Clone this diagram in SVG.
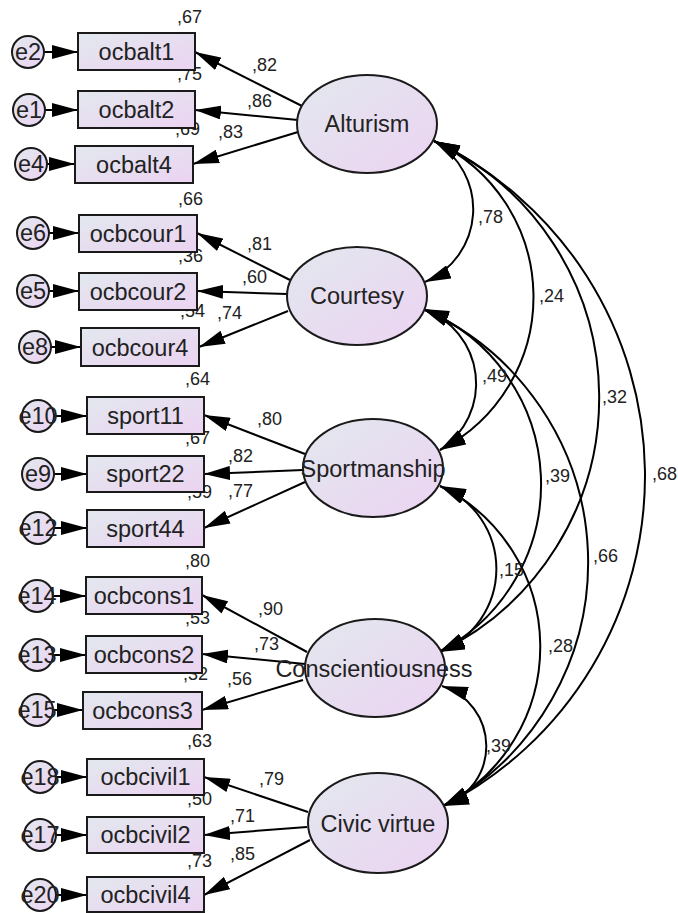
<svg xmlns="http://www.w3.org/2000/svg" width="678" height="913" viewBox="0 0 678 913">
<defs>
<linearGradient id="g" x1="0" y1="0" x2="1" y2="1">
<stop offset="0" stop-color="#e2e8ee"/>
<stop offset="1" stop-color="#ecd3f2"/>
</linearGradient>
<marker id="ah" viewBox="0 0 26 14" refX="26" refY="7" markerWidth="26" markerHeight="14" markerUnits="userSpaceOnUse" orient="auto-start-reverse">
<path d="M0,0 L26,7 L0,14 z" fill="#000"/>
</marker>
<style>
.box{fill:url(#g);stroke:#1a1a1a;stroke-width:2}
.lat{fill:url(#g);stroke:#1a1a1a;stroke-width:2}
.err{fill:url(#g);stroke:#1a1a1a;stroke-width:2}
.t{font-family:"Liberation Sans",Arial,sans-serif;font-size:23.5px;fill:#222;text-anchor:middle}
.n{font-family:"Liberation Sans",Arial,sans-serif;font-size:18px;fill:#222}
.c{fill:none;stroke:#000;stroke-width:2;marker-end:url(#ah)}
.cv{fill:none;stroke:#000;stroke-width:2;marker-start:url(#ah);marker-end:url(#ah)}
</style>
</defs>
<rect width="678" height="913" fill="#fff"/>

<g id="connectors">
<path class="c" d="M44,52 L78,52"/>
<path class="c" d="M45,110 L78,110"/>
<path class="c" d="M47,164 L75,164"/>
<path class="c" d="M49,233 L79,233"/>
<path class="c" d="M49,291 L79,291"/>
<path class="c" d="M51,347 L81,347"/>
<path class="c" d="M54,416 L87,416"/>
<path class="c" d="M54,474 L87,474"/>
<path class="c" d="M54,528 L87,528"/>
<path class="c" d="M53,596 L86,596"/>
<path class="c" d="M53,655 L86,655"/>
<path class="c" d="M53,710 L83,710"/>
<path class="c" d="M56,777 L87,777"/>
<path class="c" d="M56,835 L87,835"/>
<path class="c" d="M56,895 L87,895"/>
<path class="c" d="M302,106 L195,52"/>
<path class="c" d="M298,120 L195,110"/>
<path class="c" d="M298,132 L193,164"/>
<path class="c" d="M290,280 L197,233"/>
<path class="c" d="M287,294 L197,291"/>
<path class="c" d="M288,311 L199,347"/>
<path class="c" d="M305,454 L204,415"/>
<path class="c" d="M303,470 L204,474"/>
<path class="c" d="M305,482 L204,528"/>
<path class="c" d="M307,652 L202,595"/>
<path class="c" d="M305,664 L202,654"/>
<path class="c" d="M303,680 L202,710"/>
<path class="c" d="M308,812 L204,777"/>
<path class="c" d="M307,827 L204,835"/>
<path class="c" d="M310,840 L204,895"/>
<path class="cv" d="M434,141 A79,79 0 0 1 425,282"/>
<path class="cv" d="M434,141 A172,172 0 0 1 440,450"/>
<path class="cv" d="M434,141 A282,282 0 0 1 439,652"/>
<path class="cv" d="M434,141 A371,371 0 0 1 443,806"/>
<path class="cv" d="M423,309 A79,79 0 0 1 440,450"/>
<path class="cv" d="M423,309 A189,189 0 0 1 439,652"/>
<path class="cv" d="M423,309 A277,277 0 0 1 443,806"/>
<path class="cv" d="M440,486 A89,89 0 0 1 439,652"/>
<path class="cv" d="M440,486 A179,179 0 0 1 443,806"/>
<path class="cv" d="M442,686 A63,63 0 0 1 443,806"/>
</g>

<g id="labels">
<text class="n" x="177" y="23">,67</text>
<text class="n" x="177" y="80">,75</text>
<text class="n" x="175" y="135">,69</text>
<text class="n" x="252" y="71">,82</text>
<text class="n" x="247" y="107">,86</text>
<text class="n" x="218" y="138">,83</text>
<text class="n" x="178" y="205">,66</text>
<text class="n" x="247" y="250">,81</text>
<text class="n" x="178" y="262">,36</text>
<text class="n" x="242" y="283">,60</text>
<text class="n" x="180" y="317">,54</text>
<text class="n" x="217" y="319">,74</text>
<text class="n" x="185" y="385">,64</text>
<text class="n" x="257" y="425">,80</text>
<text class="n" x="185" y="444">,67</text>
<text class="n" x="228" y="462">,82</text>
<text class="n" x="187" y="498">,59</text>
<text class="n" x="228" y="497">,77</text>
<text class="n" x="185" y="567">,80</text>
<text class="n" x="258" y="615">,90</text>
<text class="n" x="185" y="624">,53</text>
<text class="n" x="254" y="650">,73</text>
<text class="n" x="183" y="680">,32</text>
<text class="n" x="227" y="685">,56</text>
<text class="n" x="187" y="747">,63</text>
<text class="n" x="259" y="785">,79</text>
<text class="n" x="187" y="805">,50</text>
<text class="n" x="230" y="822">,71</text>
<text class="n" x="187" y="867">,73</text>
<text class="n" x="230" y="860">,85</text>
<text class="n" x="478" y="223">,78</text>
<text class="n" x="539" y="302">,24</text>
<text class="n" x="482" y="382">,49</text>
<text class="n" x="602" y="403">,32</text>
<text class="n" x="545" y="482">,39</text>
<text class="n" x="652" y="480">,68</text>
<text class="n" x="499" y="576">,15</text>
<text class="n" x="593" y="562">,66</text>
<text class="n" x="548" y="652">,28</text>
<text class="n" x="486" y="752">,39</text>
</g>

<g id="e2"><circle class="err" cx="28" cy="52" r="16"/><text class="t" x="28" y="60">e2</text></g>
<g id="e1"><circle class="err" cx="29" cy="110" r="16"/><text class="t" x="29" y="118">e1</text></g>
<g id="e4"><circle class="err" cx="31" cy="164" r="16"/><text class="t" x="31" y="172">e4</text></g>
<g id="e6"><circle class="err" cx="33" cy="233" r="16"/><text class="t" x="33" y="241">e6</text></g>
<g id="e5"><circle class="err" cx="33" cy="291" r="16"/><text class="t" x="33" y="299">e5</text></g>
<g id="e8"><circle class="err" cx="35" cy="347" r="16"/><text class="t" x="35" y="355">e8</text></g>
<g id="e10"><circle class="err" cx="38" cy="416" r="16"/><text class="t" x="38" y="424">e10</text></g>
<g id="e9"><circle class="err" cx="38" cy="474" r="16"/><text class="t" x="38" y="482">e9</text></g>
<g id="e12"><circle class="err" cx="38" cy="528" r="16"/><text class="t" x="38" y="536">e12</text></g>
<g id="e14"><circle class="err" cx="37" cy="596" r="16"/><text class="t" x="37" y="604">e14</text></g>
<g id="e13"><circle class="err" cx="37" cy="655" r="16"/><text class="t" x="37" y="663">e13</text></g>
<g id="e15"><circle class="err" cx="37" cy="710" r="16"/><text class="t" x="37" y="718">e15</text></g>
<g id="e18"><circle class="err" cx="40" cy="777" r="16"/><text class="t" x="40" y="785">e18</text></g>
<g id="e17"><circle class="err" cx="40" cy="835" r="16"/><text class="t" x="40" y="843">e17</text></g>
<g id="e20"><circle class="err" cx="40" cy="895" r="16"/><text class="t" x="40" y="903">e20</text></g>

<g id="ocbalt1"><rect class="box" x="78" y="33" width="117" height="37"/><text class="t" x="136.5" y="60">ocbalt1</text></g>
<g id="ocbalt2"><rect class="box" x="78" y="91" width="117" height="37"/><text class="t" x="136.5" y="118">ocbalt2</text></g>
<g id="ocbalt4"><rect class="box" x="75" y="146" width="118" height="37"/><text class="t" x="134" y="173">ocbalt4</text></g>
<g id="ocbcour1"><rect class="box" x="79" y="215" width="118" height="37"/><text class="t" x="138" y="242">ocbcour1</text></g>
<g id="ocbcour2"><rect class="box" x="79" y="273" width="118" height="37"/><text class="t" x="138" y="300">ocbcour2</text></g>
<g id="ocbcour4"><rect class="box" x="81" y="328" width="118" height="38"/><text class="t" x="140" y="356">ocbcour4</text></g>
<g id="sport11"><rect class="box" x="87" y="397" width="117" height="37"/><text class="t" x="145.5" y="424">sport11</text></g>
<g id="sport22"><rect class="box" x="87" y="456" width="117" height="36"/><text class="t" x="145.5" y="482">sport22</text></g>
<g id="sport44"><rect class="box" x="87" y="510" width="117" height="37"/><text class="t" x="145.5" y="537">sport44</text></g>
<g id="ocbcons1"><rect class="box" x="86" y="577" width="116" height="37"/><text class="t" x="144" y="604">ocbcons1</text></g>
<g id="ocbcons2"><rect class="box" x="86" y="636" width="116" height="37"/><text class="t" x="144" y="663">ocbcons2</text></g>
<g id="ocbcons3"><rect class="box" x="83" y="692" width="119" height="37"/><text class="t" x="142.5" y="719">ocbcons3</text></g>
<g id="ocbcivil1"><rect class="box" x="87" y="759" width="117" height="36"/><text class="t" x="145.5" y="785">ocbcivil1</text></g>
<g id="ocbcivil2"><rect class="box" x="87" y="817" width="117" height="36"/><text class="t" x="145.5" y="843">ocbcivil2</text></g>
<g id="ocbcivil4"><rect class="box" x="87" y="877" width="117" height="35"/><text class="t" x="145.5" y="903">ocbcivil4</text></g>

<g id="Alturism"><ellipse class="lat" cx="367" cy="124" rx="70" ry="49"/><text class="t" x="367" y="132">Alturism</text></g>
<g id="Courtesy"><ellipse class="lat" cx="357" cy="296" rx="70" ry="49"/><text class="t" x="357" y="304">Courtesy</text></g>
<g id="Sportmanship"><ellipse class="lat" cx="373" cy="468" rx="70" ry="49"/><text class="t" x="373" y="477">Sportmanship</text></g>
<g id="Conscientiousness"><ellipse class="lat" cx="375" cy="668" rx="70" ry="49"/><text class="t" x="374" y="677">Conscientiousness</text></g>
<g id="Civic_virtue"><ellipse class="lat" cx="378" cy="823" rx="70" ry="50"/><text class="t" x="378" y="832">Civic virtue</text></g>
</svg>
